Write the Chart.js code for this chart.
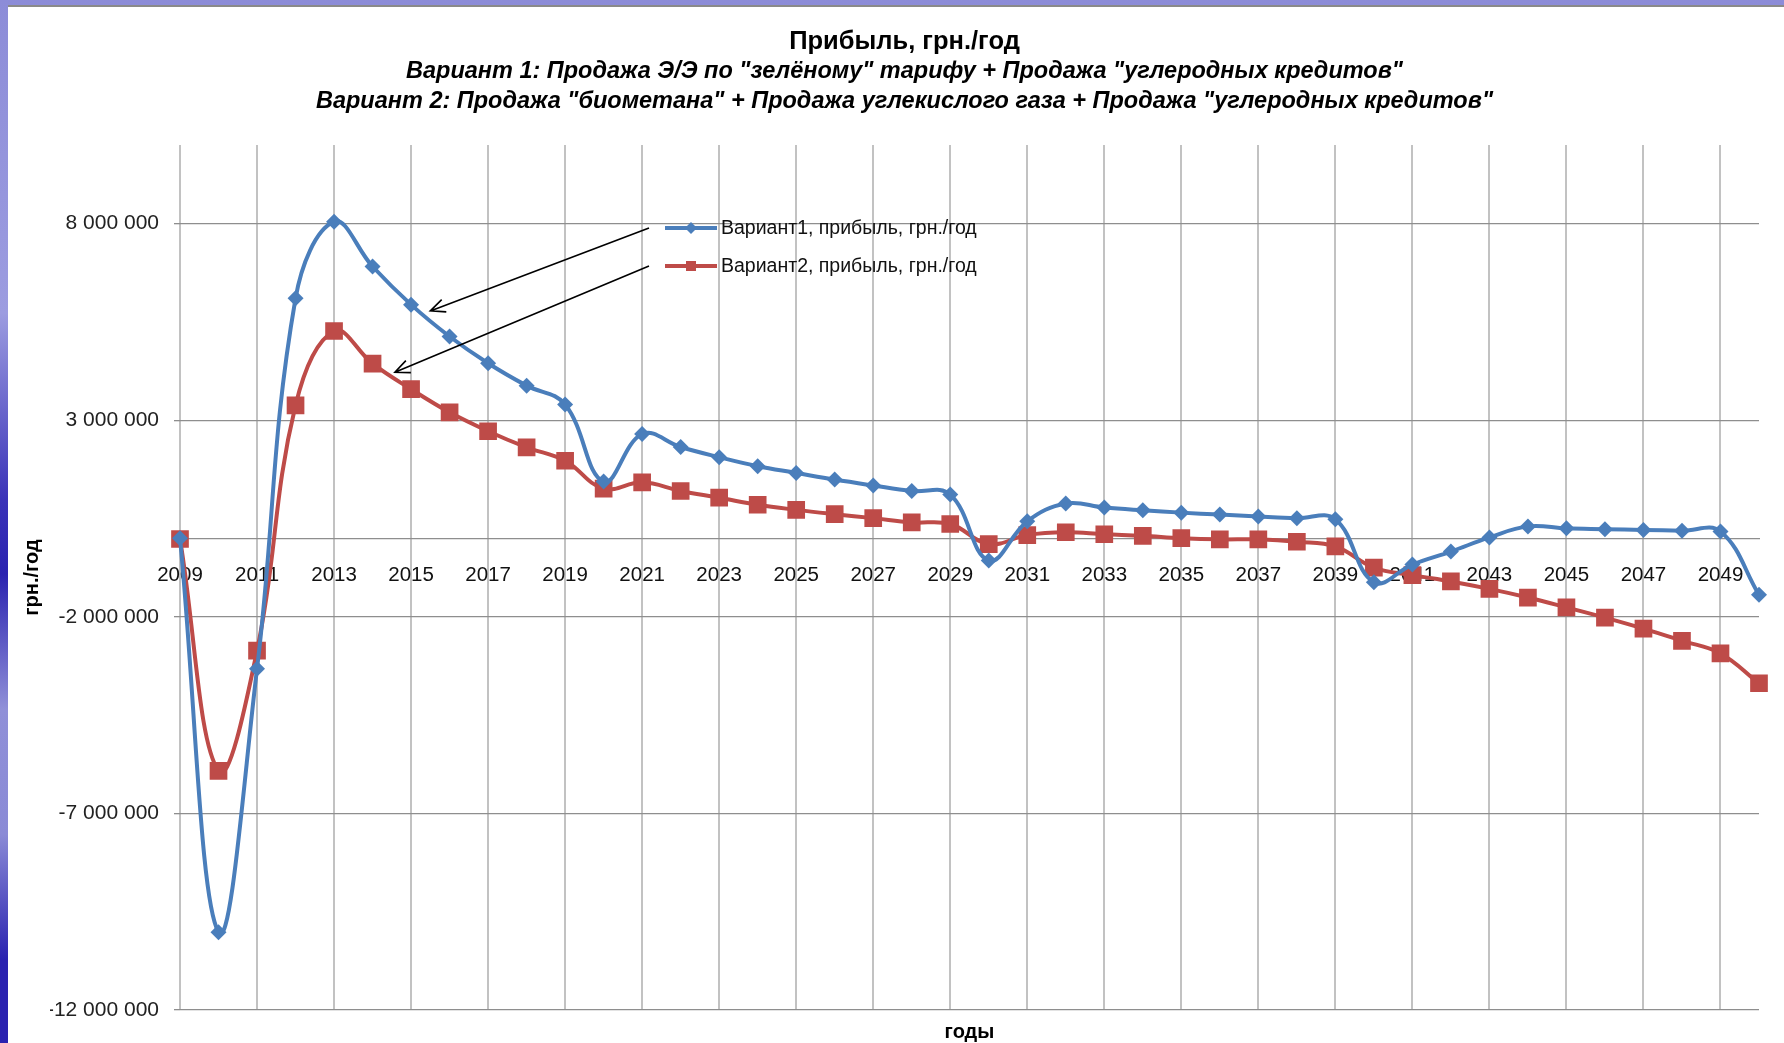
<!DOCTYPE html>
<html>
<head>
<meta charset="utf-8">
<script src="https://cdn.jsdelivr.net/npm/chart.js@4.4.0/dist/chart.umd.min.js"></script>
<style>
    html, body {
        margin: 0;
        padding: 0;
        width: 1784px;
        height: 1043px;
        overflow: hidden;
        background: linear-gradient(to bottom, #8c8cd8 0%, #9c9ce0 30%, #3a32b8 48%, #2a22b0 55%, #9090d8 68%, #8a8ad6 80%, #2a22b0 92%, #2a22b0 100%);
    }
    #panel {
        position: absolute;
        left: 8px;
        top: 5px;
        width: 1776px;
        height: 1038px;
        background: #ffffff;
        border-top: 2px solid #8a8a8a;
        box-sizing: border-box;
    }
    canvas { display: block; }
</style>
</head>
<body>
<div id="panel">
    <canvas id="chart" width="1776" height="1036"></canvas>
</div>
<script>
const years = [
    "2009", "2010", "2011", "2012", "2013", "2014", "2015", "2016", "2017", "2018", "2019",
    "2020", "2021", "2022", "2023", "2024", "2025", "2026", "2027", "2028", "2029",
    "2030", "2031", "2032", "2033", "2034", "2035", "2036", "2037", "2038", "2039",
    "2040", "2041", "2042", "2043", "2044", "2045", "2046", "2047", "2048", "2049", "2050"
];

// Вариант 1, прибыль, грн./год
const variant1 = [
    0, -10020000, -3320000, 6100000, 8050000, 6910000, 5940000, 5130000, 4450000, 3880000, 3400000,
    1440000, 2650000, 2320000, 2060000, 1830000, 1660000, 1490000, 1340000, 1200000, 1110000,
    -570000, 430000, 880000, 780000, 710000, 650000, 600000, 550000, 510000, 480000,
    -1120000, -670000, -340000, 20000, 300000, 250000, 230000, 210000, 190000, 170000, -1440000
];

// Вариант 2, прибыль, грн./год
const variant2 = [
    -20000, -5920000, -2860000, 3380000, 5270000, 4440000, 3790000, 3200000, 2720000, 2310000, 1970000,
    1260000, 1420000, 1200000, 1030000, 850000, 720000, 610000, 510000, 400000, 360000,
    -150000, 80000, 150000, 100000, 60000, 0, -30000, -30000, -90000, -210000,
    -750000, -940000, -1100000, -1290000, -1510000, -1760000, -2020000, -2300000, -2610000, -2930000, -3690000
];

const yTicks = [-12000000, -7000000, -2000000, 3000000, 8000000];

const titleText = "Прибыль, грн./год";
const subtitleLines = [
    "Вариант 1: Продажа Э/Э по \"зелёному\" тарифу + Продажа \"углеродных кредитов\"",
    "Вариант 2: Продажа \"биометана\" + Продажа углекислого газа + Продажа \"углеродных кредитов\""
];
const yTitle = "грн./год";
const xTitle = "годы";

const blue = "#4a7ebb";
const red = "#be4b48";
const font = "'Liberation Sans', Arial, sans-serif";

function fmt(v) {
    const s = Math.abs(v).toString().replace(/\B(?=(\d{3})+(?!\d))/g, " ");
    return (v < 0 ? "-" : "") + s;
}

// legend inside the plot, arrows pointing to the lines, axis titles
const extras = {
    id: "extras",
    afterDatasetsDraw(chart) {
        const ctx = chart.ctx;
        const area = chart.chartArea;
        const xs = chart.scales.x;
        const ys = chart.scales.y;
        const lx = area.left + 485;
        const rows = [area.top + 83, area.top + 121];
        const tips = [[6.5, 5780000], [5.58, 4220000]];

        ctx.save();
        chart.data.datasets.forEach((ds, i) => {
            const y = rows[i];
            ctx.strokeStyle = ds.borderColor;
            ctx.lineWidth = 4;
            ctx.beginPath();
            ctx.moveTo(lx, y);
            ctx.lineTo(lx + 52, y);
            ctx.stroke();
            ctx.fillStyle = ds.borderColor;
            ctx.beginPath();
            if (i === 0) {
                ctx.moveTo(lx + 26, y - 6);
                ctx.lineTo(lx + 32, y);
                ctx.lineTo(lx + 26, y + 6);
                ctx.lineTo(lx + 20, y);
            } else {
                ctx.rect(lx + 21, y - 5, 10, 10);
            }
            ctx.fill();
            ctx.fillStyle = "#111";
            ctx.font = "19.5px " + font;
            ctx.textBaseline = "middle";
            ctx.textAlign = "left";
            ctx.fillText(ds.label, lx + 56, y + 1);

            // arrow
            const x0 = lx - 16, y0 = y;
            const x1 = xs.getPixelForValue(tips[i][0]);
            const y1 = ys.getPixelForValue(tips[i][1]);
            ctx.strokeStyle = "#000";
            ctx.lineWidth = 1.6;
            ctx.beginPath();
            ctx.moveTo(x0, y0);
            ctx.lineTo(x1, y1);
            const a = Math.atan2(y1 - y0, x1 - x0);
            const h = 16;
            ctx.moveTo(x1 - h * Math.cos(a - 0.42), y1 - h * Math.sin(a - 0.42));
            ctx.lineTo(x1, y1);
            ctx.lineTo(x1 - h * Math.cos(a + 0.42), y1 - h * Math.sin(a + 0.42));
            ctx.stroke();
        });

        ctx.fillStyle = "#000";
        ctx.font = "bold 20px " + font;
        ctx.textAlign = "center";
        ctx.textBaseline = "middle";
        ctx.fillText(xTitle, (area.left + area.right) / 2, area.bottom + 22);

        ctx.translate(24, (area.top + area.bottom) / 2);
        ctx.rotate(-Math.PI / 2);
        ctx.fillText(yTitle, 0, 0);
        ctx.restore();
    }
};

new Chart(document.getElementById("chart"), {
    type: "line",
    data: {
        labels: years,
        datasets: [
            {
                label: "Вариант1, прибыль, грн./год",
                data: variant1,
                borderColor: blue,
                backgroundColor: blue,
                borderWidth: 4,
                tension: 0.4,
                pointStyle: "rectRot",
                pointRadius: 8,
                pointBackgroundColor: blue,
                pointBorderColor: blue,
                pointBorderWidth: 0
            },
            {
                label: "Вариант2, прибыль, грн./год",
                data: variant2,
                borderColor: red,
                backgroundColor: red,
                borderWidth: 4,
                tension: 0.4,
                pointStyle: "rect",
                pointRadius: 12.5,
                pointBackgroundColor: red,
                pointBorderColor: red,
                pointBorderWidth: 0
            }
        ]
    },
    options: {
        responsive: false,
        animation: false,
        devicePixelRatio: 1,
        layout: {
            padding: { left: 42, right: 25, top: 0, bottom: 33 }
        },
        plugins: {
            legend: { display: false },
            tooltip: { enabled: false },
            title: {
                display: true,
                text: titleText,
                color: "#000",
                font: { family: font, size: 25.5, weight: "bold", lineHeight: "30px" },
                padding: { top: 20, bottom: 0 }
            },
            subtitle: {
                display: true,
                text: subtitleLines,
                color: "#000",
                font: { family: font, size: 23.5, weight: "bold", style: "italic", lineHeight: "30px" },
                padding: { top: 0, bottom: 28 }
            }
        },
        scales: {
            x: {
                position: { y: 0 },
                offset: false,
                grid: {
                    color: (c) => (c.index % 2 === 0 ? "#c2c2c2" : "rgba(0,0,0,0)"),
                    lineWidth: 2,
                    drawTicks: false
                },
                border: { display: true, color: "#8e8e8e", width: 1.3 },
                ticks: {
                    autoSkip: false,
                    maxRotation: 0,
                    padding: 25,
                    color: "#111",
                    font: { family: font, size: 20.5 },
                    callback: (v, i) => (i % 2 === 0 ? years[i] : "")
                }
            },
            y: {
                min: -12000000,
                max: 10000000,
                afterBuildTicks: (s) => {
                    s.ticks = yTicks.map((v) => ({ value: v }));
                },
                afterFit: (s) => {
                    s.width = 130;
                },
                grid: {
                    color: "#8e8e8e",
                    lineWidth: 1.3,
                    tickLength: 6
                },
                border: { display: false },
                ticks: {
                    padding: 15,
                    color: "#222",
                    font: { family: font, size: 21 },
                    callback: (v) => fmt(v)
                }
            }
        }
    },
    plugins: [extras]
});
</script>
</body>
</html>
